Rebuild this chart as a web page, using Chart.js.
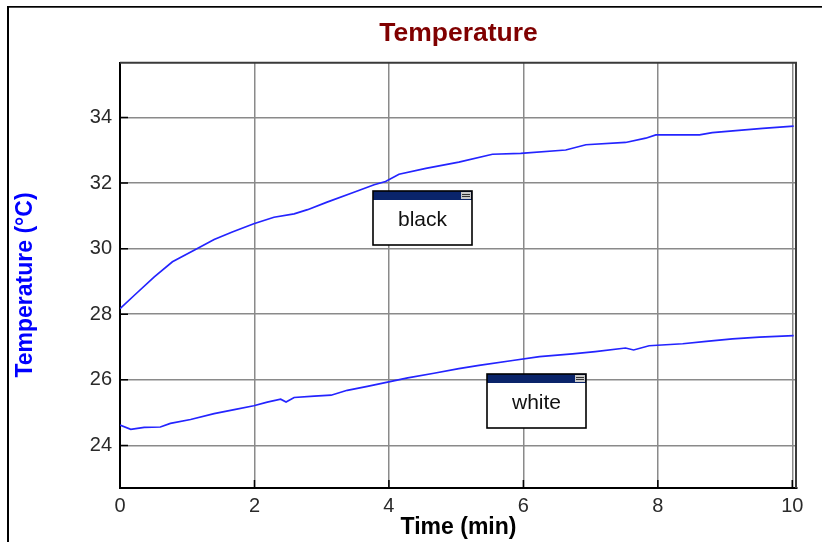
<!DOCTYPE html>
<html>
<head>
<meta charset="utf-8">
<script src="https://cdn.jsdelivr.net/npm/chart.js@4/dist/chart.umd.min.js"></script>
<style>
html,body{margin:0;padding:0;background:#fff;}
canvas{display:block;}
</style>
</head>
<body>
<canvas id="c" width="822" height="542"></canvas>
<script>
// ---- data ----
const chartTitle = 'Temperature';
const xTitle = 'Time (min)';
const yTitle = 'Temperature (°C)';
const xTicks = [0, 2, 4, 6, 8, 10];
const yTicks = [24, 26, 28, 30, 32, 34];
const xRange = [0, 10.07];
const yRange = [22.7, 35.67];

const blackTime = [0, 0.23, 0.51, 0.78, 1.13, 1.40, 1.67, 1.99, 2.29, 2.59, 2.79, 3.08, 3.48, 3.78, 3.95, 4.15, 4.55, 5.04, 5.54, 5.96, 6.63, 6.93, 7.52, 7.82, 7.97, 8.62, 8.81, 9.16, 9.56, 10.02];
const blackTemp = [28.17, 28.61, 29.14, 29.60, 29.98, 30.28, 30.51, 30.76, 30.96, 31.06, 31.19, 31.42, 31.72, 31.95, 32.05, 32.27, 32.45, 32.64, 32.88, 32.91, 33.01, 33.17, 33.24, 33.37, 33.47, 33.47, 33.54, 33.60, 33.67, 33.74];

const whiteTime = [0, 0.16, 0.36, 0.60, 0.75, 1.05, 1.40, 1.70, 1.99, 2.19, 2.39, 2.47, 2.59, 2.89, 3.14, 3.38, 3.68, 3.98, 4.28, 4.67, 5.04, 5.34, 5.84, 6.24, 6.73, 7.07, 7.52, 7.64, 7.87, 8.37, 8.72, 9.11, 9.51, 10.02];
const whiteTemp = [24.62, 24.49, 24.55, 24.56, 24.67, 24.79, 24.97, 25.09, 25.21, 25.32, 25.41, 25.32, 25.46, 25.50, 25.53, 25.68, 25.80, 25.93, 26.06, 26.20, 26.34, 26.44, 26.59, 26.71, 26.79, 26.86, 26.97, 26.91, 27.04, 27.10, 27.17, 27.25, 27.30, 27.35];

const noteLabels = ['black', 'white'];
const noteX = [3.76, 5.46];
const noteY = [31.77, 26.19];

// ---- helpers ----
const toPoints = (xs, ys) => xs.map((x, i) => ({x: x, y: ys[i]}));
const SANS = '"Liberation Sans", Arial, sans-serif';

const decor = {
  id: 'decor',
  beforeDraw(chart) {
    const ctx = chart.ctx;
    ctx.save();
    ctx.fillStyle = '#fff';
    ctx.fillRect(0, 0, chart.width, chart.height);
    ctx.fillStyle = '#000';
    ctx.fillRect(7, 6, chart.width - 7, 1.7);
    ctx.fillRect(7, 6, 2, chart.height - 6);
    ctx.restore();
  },
  afterDraw(chart) {
    const ctx = chart.ctx;
    const a = chart.chartArea;
    const xs = chart.scales.x, ys = chart.scales.y;
    ctx.save();
    // top and right frame of plot
    ctx.strokeStyle = '#3a3a3a';
    ctx.lineWidth = 2;
    ctx.beginPath();
    ctx.moveTo(a.left, a.top);
    ctx.lineTo(a.right - 1, a.top);
    ctx.lineTo(a.right - 1, a.bottom);
    ctx.stroke();
    // inward tick marks
    ctx.strokeStyle = '#000';
    ctx.lineWidth = 1.5;
    ctx.beginPath();
    yTicks.forEach(v => {
      const y = ys.getPixelForValue(v);
      ctx.moveTo(a.left, y); ctx.lineTo(a.left + 8, y);
    });
    xTicks.forEach(v => {
      const x = xs.getPixelForValue(v);
      ctx.moveTo(x, a.bottom); ctx.lineTo(x, a.bottom - 8);
    });
    ctx.stroke();
    // note boxes
    noteLabels.forEach((t, i) => {
      const px = Math.round(xs.getPixelForValue(noteX[i]));
      const py = Math.round(ys.getPixelForValue(noteY[i]));
      const w = 99, h = 54, bar = 9;
      ctx.fillStyle = '#fff';
      ctx.fillRect(px, py, w, h);
      ctx.fillStyle = '#0a246a';
      ctx.fillRect(px, py, w, bar);
      ctx.fillStyle = '#c8c8c8';
      ctx.fillRect(px + w - 11, py + 1, 10, bar - 2);
      ctx.fillStyle = '#333';
      ctx.fillRect(px + w - 10, py + 3, 8, 1);
      ctx.fillRect(px + w - 10, py + 5, 8, 1);
      ctx.strokeStyle = '#000';
      ctx.lineWidth = 1.6;
      ctx.strokeRect(px, py, w, h);
      ctx.fillStyle = '#111';
      ctx.font = '21px ' + SANS;
      ctx.textAlign = 'center';
      ctx.textBaseline = 'middle';
      ctx.fillText(t, px + w / 2, py + 29);
    });
    ctx.restore();
  }
};

new Chart(document.getElementById('c'), {
  type: 'scatter',
  data: {
    datasets: [
      {label: 'black', data: toPoints(blackTime, blackTemp), showLine: true, borderColor: '#2424ff', borderWidth: 1.7, pointRadius: 0, tension: 0},
      {label: 'white', data: toPoints(whiteTime, whiteTemp), showLine: true, borderColor: '#2424ff', borderWidth: 1.7, pointRadius: 0, tension: 0}
    ]
  },
  options: {
    responsive: false,
    animation: false,
    devicePixelRatio: 1,
    layout: {padding: {left: 0, top: 0, right: 25, bottom: 0}},
    plugins: {
      legend: {display: false},
      tooltip: {enabled: false},
      title: {
        display: true, text: chartTitle, color: '#800000', fullSize: false,
        font: {family: SANS, size: 26.5, weight: 'bold'},
        padding: {top: 18, bottom: 13}
      }
    },
    scales: {
      x: {
        type: 'linear', min: xRange[0], max: xRange[1],
        afterBuildTicks: s => { s.ticks = xTicks.map(v => ({value: v})); },
        afterFit: s => { s.height = 54; },
        grid: {color: '#8a8a8a', lineWidth: 1.5, drawTicks: false},
        border: {color: '#000', width: 2},
        ticks: {font: {family: SANS, size: 20}, color: '#2a2a2a', padding: 6, maxRotation: 0, autoSkip: false},
        title: {display: true, text: xTitle, color: '#000', font: {family: SANS, size: 23, weight: 'bold'}, padding: {top: 0, bottom: 1}}
      },
      y: {
        type: 'linear', min: yRange[0], max: yRange[1],
        afterBuildTicks: s => { s.ticks = yTicks.map(v => ({value: v})); },
        afterFit: s => { s.width = 120; },
        grid: {color: '#8a8a8a', lineWidth: 1.5, drawTicks: false},
        border: {color: '#000', width: 2},
        ticks: {font: {family: SANS, size: 20}, color: '#2a2a2a', padding: 8, autoSkip: false},
        title: {display: true, text: yTitle + '\u00a0\u00a0\u00a0', color: '#0000ff', font: {family: SANS, size: 23, weight: 'bold'}, padding: {top: 12, bottom: 0}}
      }
    }
  },
  plugins: [decor]
});
</script>
</body>
</html>
